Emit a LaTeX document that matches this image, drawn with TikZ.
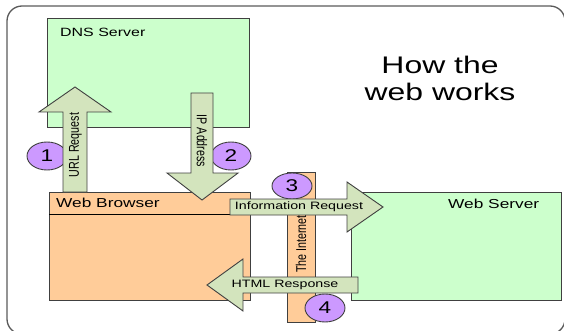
\documentclass[tikz,border=0pt]{standalone}
\usepackage{fontspec}
\setmainfont{Liberation Sans}
\usetikzlibrary{shapes.geometric}
\newcommand\sx[1]{\scalebox{1.33}[1]{#1}}
\newcommand\sy[1]{\scalebox{1}[1.33]{#1}}
\definecolor{boxgreen}{HTML}{CCFFCC}
\definecolor{peach}{HTML}{FFCC99}
\definecolor{sage}{HTML}{D3E4BD}
\definecolor{lilac}{HTML}{CC99FF}
\definecolor{edgegray}{HTML}{404040}
\definecolor{framegray}{HTML}{5A5A5A}
\begin{document}
\begin{tikzpicture}[x=1pt,y=-1pt,
  boxshape/.style={draw=edgegray, line width=1.1pt, inner sep=0pt, anchor=north west},
  blockarrow/.style={draw=edgegray, fill=sage, line width=0.9pt, line join=miter},
  badge/.style={ellipse, draw=edgegray, fill=lilac, line width=0.9pt, minimum width=40pt, minimum height=28pt, inner sep=0pt, font=\fontsize{17}{17}\selectfont},
  lbl/.style={font=\fontsize{10.7}{12}\selectfont, inner sep=0pt},
  boxlbl/.style={inner sep=0pt, anchor=base west}
]
\useasboundingbox (0,0) rectangle (564,331);
\clip (0,0) rectangle (564,331);
% frame
\draw[framegray, line width=1.3pt, rounded corners=15pt] (7,6) rectangle (565,334);
% boxes
\node[boxshape, fill=boxgreen, minimum width=202pt, minimum height=109pt] (dns) at (47,18) {};
\node[boxshape, fill=peach, minimum width=201pt, minimum height=108pt] (browser) at (49,192) {};
\node[boxshape, fill=boxgreen, minimum width=210pt, minimum height=108pt] (server) at (351,192) {};
\draw[black, line width=0.9pt] (49,214) -- (250,214);
\node[boxshape, fill=peach, minimum width=28pt, minimum height=150pt] (internet) at (287,172) {};
% box labels
\node[boxlbl, font=\fontsize{12}{14}\selectfont] (dnslbl) at (60,36.5) {\sx{DNS Server}};
\node[boxlbl, font=\fontsize{13}{15}\selectfont] (browserlbl) at (56,207.5) {\sx{Web Browser}};
\node[boxlbl, font=\fontsize{13}{15}\selectfont] (serverlbl) at (448,208) {\sx{Web Server}};
\node[lbl, rotate=90] (netlbl) at (301,244) {\sy{The Internet}};
% title
\node[align=center, inner sep=0pt, font=\fontsize{24}{27}\selectfont] (title) at (440,78.5) {\sx{How the}\\\sx{web works}};
% badges
\node[badge] (n1) at (47,156) {\sx{1}};
\node[badge] (n2) at (231,156) {\sx{2}};
\node[badge, minimum height=26pt] (n3) at (292,186) {\sx{3}};
\node[badge] (n4) at (325,308) {\sx{4}};
% block arrows
\draw[blockarrow] (63,192) -- (63,112) -- (39,112) -- (75,87) -- (111,112) -- (87,112) -- (87,192) -- cycle;
\draw[blockarrow] (191,93) -- (213,93) -- (213,173) -- (238,173) -- (202,200) -- (167,173) -- (191,173) -- cycle;
\draw[blockarrow] (230,199) -- (347,199) -- (347,182) -- (383,207) -- (347,232) -- (347,215) -- (230,215) -- cycle;
\draw[blockarrow] (358,277) -- (243,277) -- (243,259) -- (207,285) -- (243,311) -- (243,293) -- (358,293) -- cycle;
% arrow labels
\node[lbl, rotate=90] (urllbl) at (75.5,145) {\sy{URL Request}};
\node[lbl, rotate=-90] (iplbl) at (202,141) {\sy{IP Address}};
\node[lbl] (reqlbl) at (299,207) {\sx{Information Request}};
\node[lbl] (resplbl) at (285,285) {\sx{HTML Response}};
\end{tikzpicture}
\end{document}
